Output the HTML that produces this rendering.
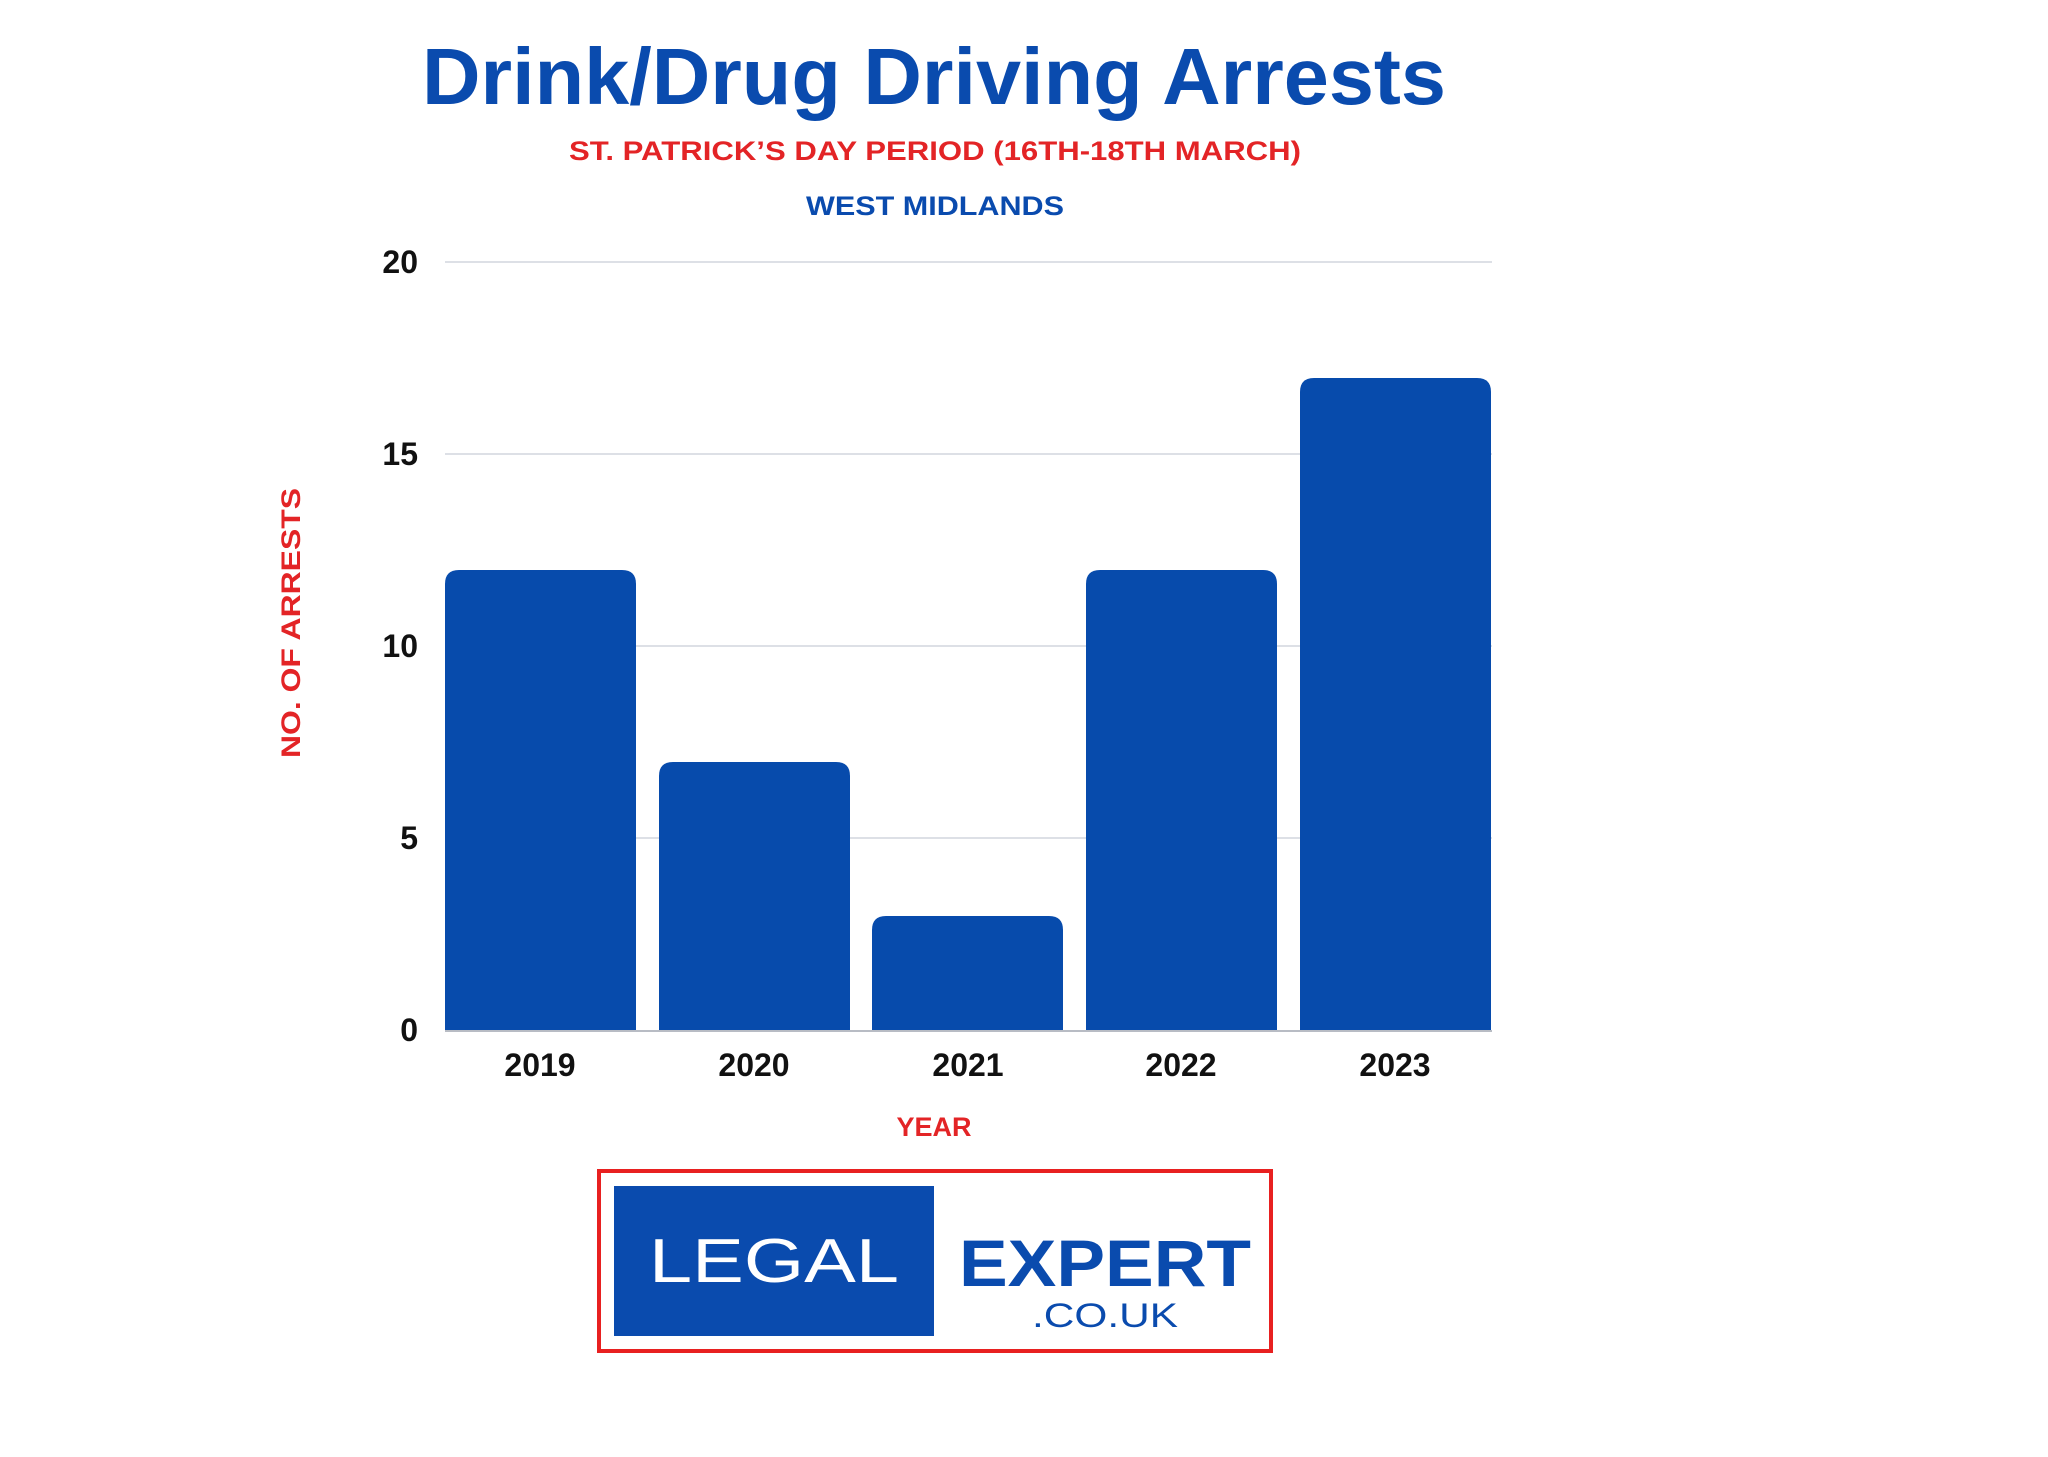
<!DOCTYPE html>
<html><head><meta charset="utf-8"><style>
html,body{margin:0;padding:0;background:#fff;}
svg{display:block;}
</style></head><body>
<svg width="2048" height="1457" viewBox="0 0 2048 1457" xmlns="http://www.w3.org/2000/svg" font-family="Liberation Sans, sans-serif">
<rect width="2048" height="1457" fill="#fff"/>
<text x="934" y="104" text-anchor="middle" font-size="80" font-weight="bold" fill="#0a4bae" textLength="1024" lengthAdjust="spacingAndGlyphs">Drink/Drug Driving Arrests</text>
<text x="935" y="160" text-anchor="middle" font-size="27" font-weight="bold" fill="#e32426" textLength="732" lengthAdjust="spacingAndGlyphs">ST. PATRICK’S DAY PERIOD (16TH-18TH MARCH)</text>
<text x="935" y="215" text-anchor="middle" font-size="27" font-weight="bold" fill="#0a4bae" textLength="258" lengthAdjust="spacingAndGlyphs">WEST MIDLANDS</text>
<g stroke="#dde0e6" stroke-width="2">
<line x1="445" y1="262" x2="1492" y2="262"/>
<line x1="445" y1="454" x2="1492" y2="454"/>
<line x1="445" y1="646" x2="1492" y2="646"/>
<line x1="445" y1="838" x2="1492" y2="838"/>
</g>
<g font-size="32" font-weight="bold" fill="#111" text-anchor="end">
<text x="418" y="273">20</text>
<text x="418" y="465">15</text>
<text x="418" y="657">10</text>
<text x="418" y="849">5</text>
<text x="418" y="1041">0</text>
</g>
<g fill="#074bac">
<path d="M445,1030 V584 Q445,570 459,570 H622 Q636,570 636,584 V1030 Z"/>
<path d="M659,1030 V776 Q659,762 673,762 H836 Q850,762 850,776 V1030 Z"/>
<path d="M872,1030 V930 Q872,916 886,916 H1049 Q1063,916 1063,930 V1030 Z"/>
<path d="M1086,1030 V584 Q1086,570 1100,570 H1263 Q1277,570 1277,584 V1030 Z"/>
<path d="M1300,1030 V392 Q1300,378 1314,378 H1477 Q1491,378 1491,392 V1030 Z"/>
</g>
<line x1="445" y1="1031" x2="1492" y2="1031" stroke="#b8bcc4" stroke-width="2"/>
<g font-size="32" font-weight="bold" fill="#111" text-anchor="middle">
<text x="540" y="1076">2019</text>
<text x="754" y="1076">2020</text>
<text x="968" y="1076">2021</text>
<text x="1181" y="1076">2022</text>
<text x="1395" y="1076">2023</text>
</g>
<text x="934" y="1136" text-anchor="middle" font-size="27" font-weight="bold" fill="#e32426">YEAR</text>
<text transform="translate(300,623) rotate(-90)" text-anchor="middle" font-size="27" font-weight="bold" fill="#e32426" textLength="270" lengthAdjust="spacingAndGlyphs">NO. OF ARRESTS</text>
<rect x="599" y="1171" width="672" height="180" fill="#fff" stroke="#e82020" stroke-width="4"/>
<rect x="614" y="1186" width="320" height="150" fill="#0a4bae"/>
<text x="774" y="1282" text-anchor="middle" font-size="62" fill="#fff" textLength="250" lengthAdjust="spacingAndGlyphs">LEGAL</text>
<text x="1105" y="1286" text-anchor="middle" font-size="66" font-weight="bold" fill="#0a4bae" textLength="292" lengthAdjust="spacingAndGlyphs">EXPERT</text>
<text x="1105" y="1327" text-anchor="middle" font-size="34" fill="#0a4bae" textLength="146" lengthAdjust="spacingAndGlyphs">.CO.UK</text>
</svg>
</body></html>
